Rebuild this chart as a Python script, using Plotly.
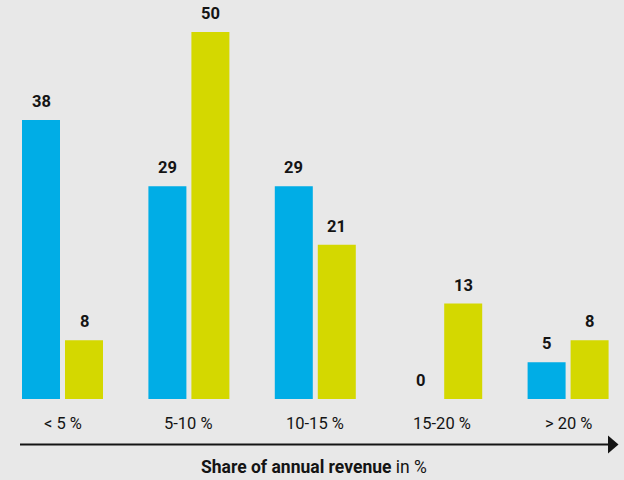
import plotly.graph_objects as go

# Revenue share buckets and the two series (percent of respondents)
categories = ["< 5 %", "5-10 %", "10-15 %", "15-20 %", "> 20 %"]
series_a = [38, 29, 29, 0, 5]
series_b = [8, 50, 21, 13, 8]

BLUE = "#00ADE6"
YELLOW = "#D4D800"
BG = "#E8E8E8"
TEXT = "#141414"
FONT = "Roboto"

W, H = 624, 480
BOTTOM = 81
plot_h = H - BOTTOM

# horizontal scale: category centres 126.4 px apart, first centre at 62.5 px
px_per_cat = 126.4
x0_px = 62.5
x_range = [-x0_px / px_per_cat, (W - x0_px) / px_per_cat]
bar_w = 38 / px_per_cat
off_a = -40.5 / px_per_cat
off_b = 2.5 / px_per_cat

# vertical scale: 7.34 px per percentage point
y_top = plot_h / 7.34

xs = list(range(len(categories)))

fig = go.Figure()
fig.add_trace(go.Bar(x=xs, y=series_a, width=bar_w, offset=off_a,
                     marker=dict(color=BLUE, line=dict(width=0)), hoverinfo="skip"))
fig.add_trace(go.Bar(x=xs, y=series_b, width=bar_w, offset=off_b,
                     marker=dict(color=YELLOW, line=dict(width=0)), hoverinfo="skip"))

annotations = []
for i, (a, b) in enumerate(zip(series_a, series_b)):
    for val, off in ((a, off_a), (b, off_b)):
        annotations.append(dict(
            x=i + off + bar_w / 2, y=val, xref="x", yref="y",
            text=f"<b>{val}</b>", showarrow=False, yanchor="bottom", yshift=7,
            font=dict(family=FONT, size=16.5, color=TEXT)))
    annotations.append(dict(
        x=i, y=0, xref="x", yref="y", text=categories[i], showarrow=False,
        yanchor="middle", yshift=-24, font=dict(family=FONT, size=16.5, color=TEXT)))

# axis title below the arrow
annotations.append(dict(
    x=314 / W, y=0, xref="paper", yref="paper",
    text="<b>Share of annual revenue</b> in %", showarrow=False,
    yanchor="middle", yshift=-68, font=dict(family=FONT, size=17.5, color=TEXT)))

def px(xp):
    return xp / W

def py(yp):
    return (plot_h - yp) / plot_h

arrow_y = 444.5
shapes = [
    dict(type="line", xref="paper", yref="paper",
         x0=px(20), x1=px(610), y0=py(arrow_y), y1=py(arrow_y),
         line=dict(color=TEXT, width=2)),
    dict(type="path", xref="paper", yref="paper",
         path=f"M {px(608)},{py(435.5)} L {px(618.5)},{py(arrow_y)} L {px(608)},{py(453.5)} Z",
         fillcolor=TEXT, line=dict(width=0)),
]

fig.update_layout(
    width=W, height=H,
    margin=dict(l=0, r=0, t=0, b=BOTTOM),
    paper_bgcolor=BG, plot_bgcolor=BG,
    barmode="overlay", showlegend=False,
    xaxis=dict(range=x_range, showgrid=False, zeroline=False, showticklabels=False,
               showline=False, fixedrange=True),
    yaxis=dict(range=[0, y_top], showgrid=False, zeroline=False, showticklabels=False,
               showline=False, fixedrange=True),
    annotations=annotations, shapes=shapes,
)

fig.write_html("out.html", config={"displayModeBar": False})
